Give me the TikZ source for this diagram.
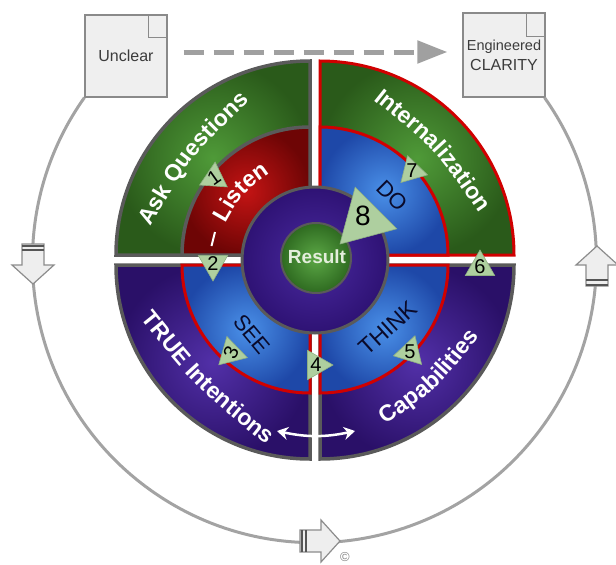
\documentclass[tikz,border=0pt]{standalone}
\usepackage{fontspec}
\setmainfont{Liberation Sans}
\usetikzlibrary{shapes.geometric,decorations.text,arrows.meta,calc}
\definecolor{loopgray}{HTML}{A3A3A3}
\definecolor{arrfill}{HTML}{EEEEEE}
\definecolor{arredge}{HTML}{8C8C8C}
\definecolor{bardark}{HTML}{555555}
\definecolor{boxfill}{HTML}{EFEFEF}
\definecolor{boxedge}{HTML}{8A8A8A}
\definecolor{boxtext}{HTML}{3C3C3C}
\definecolor{dashgray}{HTML}{A0A0A0}
\definecolor{qgray}{HTML}{5A5A5A}
\definecolor{qred}{HTML}{D00000}
\definecolor{grnin}{HTML}{4F9A38}
\definecolor{grnout}{HTML}{2A5A1A}
\definecolor{redin}{HTML}{C41414}
\definecolor{redout}{HTML}{6E0505}
\definecolor{bluin}{HTML}{4A90E8}
\definecolor{bluout}{HTML}{1E48A8}
\definecolor{purin}{HTML}{5230A8}
\definecolor{purout}{HTML}{2A1068}
\definecolor{cirin}{HTML}{4A2AA0}
\definecolor{cirout}{HTML}{2E1274}
\definecolor{resin}{HTML}{5CA846}
\definecolor{resout}{HTML}{2E6A20}
\definecolor{restext}{HTML}{E4EEDC}
\definecolor{navytext}{HTML}{0A0A2A}
\definecolor{trifill}{HTML}{AECF9F}
\definecolor{triedge}{HTML}{8FB083}
\newcommand{\wtext}{\fontsize{23pt}{23pt}\selectfont\bfseries\color{white}}
\tikzset{
  blockarrow/.pic={
    \path[draw=arredge, fill=arrfill, line width=1.2pt, line join=miter]
      (-21,-11) -- (0,-11) -- (0,-21) -- (19,0) -- (0,21) -- (0,11) -- (-21,11) -- cycle;
    \draw[bardark, line width=2pt] (-19.5,-11) -- (-19.5,11) (-15,-11) -- (-15,11);
  },
  notebox/.style={draw=boxedge, fill=boxfill, line width=1.2pt, inner sep=0pt, text=boxtext},
  boxline/.style={draw=boxedge, line width=1.2pt},
  loopline/.style={draw=loopgray, line width=3pt},
  dasharrow/.style={draw=dashgray, line width=5pt, dash pattern=on 20pt off 10pt,
    -{Triangle[length=30pt,width=22pt]}},
  quadgray/.style={draw=qgray, line width=3.5pt, line join=miter},
  quadred/.style={draw=qred, line width=3pt, line join=miter},
  greenfill/.style={shade, inner color=grnin, outer color=grnout},
  redfill/.style={shade, inner color=redin, outer color=redout},
  bluefill/.style={shade, inner color=bluin, outer color=bluout},
  purplefill/.style={shade, inner color=purin, outer color=purout},
  arctext/.style={decorate, decoration={text along path, text align=center, text={|\wtext|#1}}},
  steptext/.style={font=\fontsize{22pt}{22pt}\selectfont, text=navytext, inner sep=0pt},
  numtri/.style={regular polygon, regular polygon sides=3, fill=trifill, draw=triedge,
    line width=0.6pt, inner sep=0pt, minimum size=#1},
  numtext/.style={font=\fontsize{20pt}{20pt}\selectfont, text=black, inner sep=0pt},
}
\begin{document}
\begin{tikzpicture}[x=1pt,y=1pt]
\useasboundingbox (0,0) rectangle (616,-565);
\coordinate (C) at (315,-260);

% boxes
\node[notebox, minimum width=82pt, minimum height=82pt,
  font=\fontsize{16pt}{16pt}\selectfont] (unclear) at (126,-56) {Unclear};
\node[notebox, minimum width=82pt, minimum height=84pt] (clarity) at (504,-55) {};
\node[text=boxtext, inner sep=0pt, font=\fontsize{14.5pt}{14.5pt}\selectfont] (eng) at (504,-47) {Engineered};
\node[text=boxtext, inner sep=0pt, font=\fontsize{16pt}{16pt}\selectfont] (clar) at (504,-65) {CLARITY};
\draw[boxline] ($(unclear.north east)+(-19,0)$) |- ($(unclear.north east)+(0,-23)$);
\draw[boxline] ($(clarity.north east)+(-19,0)$) |- ($(clarity.north east)+(0,-24)$);

% outer loop
\draw[loopline] (unclear.south west) arc[start angle=144.67, end angle=395.3, radius=282];
\path (33,-265) pic[rotate=-90] {blockarrow};
\path (321,-541) pic {blockarrow};
\path (597,-265) pic[rotate=90] {blockarrow};
\node[text=gray, inner sep=0pt, font=\fontsize{13pt}{13pt}\selectfont] (copy) at (345,-557) {©};

% dashed arrow
\draw[dasharrow] ($(unclear.east)+(16,4)$) -- ($(clarity.west)+(-15,3)$);

% outer quadrants
\path[greenfill, quadgray] (310,-255) -- (116,-255) arc[start angle=180, end angle=90, radius=194] -- cycle;
\path[greenfill, quadred] (320,-255) -- (320,-61) arc[start angle=90, end angle=0, radius=194] -- cycle;
\path[purplefill, quadgray] (310,-265) -- (116,-265) arc[start angle=180, end angle=270, radius=194] -- cycle;
\path[purplefill, quadgray] (320,-265) -- (514,-265) arc[start angle=0, end angle=-90, radius=194] -- cycle;

% middle quadrants
\path[redfill, quadgray] (310,-255) -- (182,-255) arc[start angle=180, end angle=90, radius=128] -- cycle;
\path[bluefill, quadred] (320,-255) -- (320,-127) arc[start angle=90, end angle=0, radius=128] -- cycle;
\path[bluefill, quadred] (310,-265) -- (182,-265) arc[start angle=180, end angle=270, radius=128] -- cycle;
\path[bluefill, quadred] (320,-265) -- (448,-265) arc[start angle=0, end angle=-90, radius=128] -- cycle;

% centre circles
\path[shade, inner color=cirin, outer color=cirout, draw=qgray, line width=3pt] (C) circle[radius=73];
\path[shade, inner color=resin, outer color=resout, draw=qgray, line width=2pt] (316,-258) circle[radius=35];
\node[font=\fontsize{19pt}{19pt}\selectfont\bfseries, text=restext, inner sep=0pt] (result) at (317,-257) {Result};

% curved labels
\path[arctext={Ask Questions}] (148.3,-230.5) .. controls (191,-156.8) .. (252.5,-98);
\path[arctext={Internalization}] (372.5,-99) .. controls (435,-148.7) .. (479.9,-214.8);
\path[arctext={TRUE Intentions}] (139,-316.6) .. controls (196.9,-388.7) .. (269,-446.6);
\path[arctext={Capabilities}] (382.4,-426.9) .. controls (438.8,-387.4) .. (481.5,-333.3);
\path[arctext={Listen}] (224.1,-225.2) .. controls (242.3,-193.3) .. (272.3,-172.2);

% step labels
\node[steptext, rotate=-45] (do) at (392,-196) {DO};
\node[steptext, rotate=-50] (see) at (252,-334) {SEE};
\node[steptext, rotate=42, font=\fontsize{23pt}{23pt}\selectfont] (think) at (388,-328) {THINK};

% white marks
\coordinate (w1) at (215,-232);
\coordinate (w2) at (211.5,-246);
\draw[white, line width=2pt] (w1) -- (w2);
\coordinate (wa) at (277,-431);
\coordinate (wb) at (355,-431);
\draw[white, line width=2.5pt, {Stealth[length=11pt,width=13pt]}-{Stealth[length=11pt,width=13pt]}]
  (wa) to[bend right=12] (wb);

% numbered triangles
\node[numtri=32pt, shape border rotate=-4] (t1) at (214,-178) {};
\node[numtext, rotate=35] (n1) at (t1) {1};
\node[numtri=34pt, shape border rotate=180] (t2) at (213,-264) {};
\node[numtext] (n2) at (t2) {2};
\node[numtri=34pt, shape border rotate=14] (t3) at (231,-353) {};
\node[numtext, rotate=65] (n3) at (t3) {3};
\node[numtri=34pt, shape border rotate=-90] (t4) at (316,-365) {};
\node[numtext] (n4) at (t4) {4};
\node[numtri=34pt, shape border rotate=-17] (t5) at (410,-352) {};
\node[numtext] (n5) at (t5) {5};
\node[numtri=34pt, shape border rotate=0] (t6) at (480,-267) {};
\node[numtext] (n6) at (t6) {6};
\node[numtri=32pt, shape border rotate=16] (t7) at (412,-171) {};
\node[numtext] (n7) at (t7) {7};
\node[numtri=68pt, shape border rotate=15] (t8) at (364,-220) {};
\node[numtext, font=\fontsize{28pt}{28pt}\selectfont] (n8) at (363,-216) {8};
\end{tikzpicture}
\end{document}
